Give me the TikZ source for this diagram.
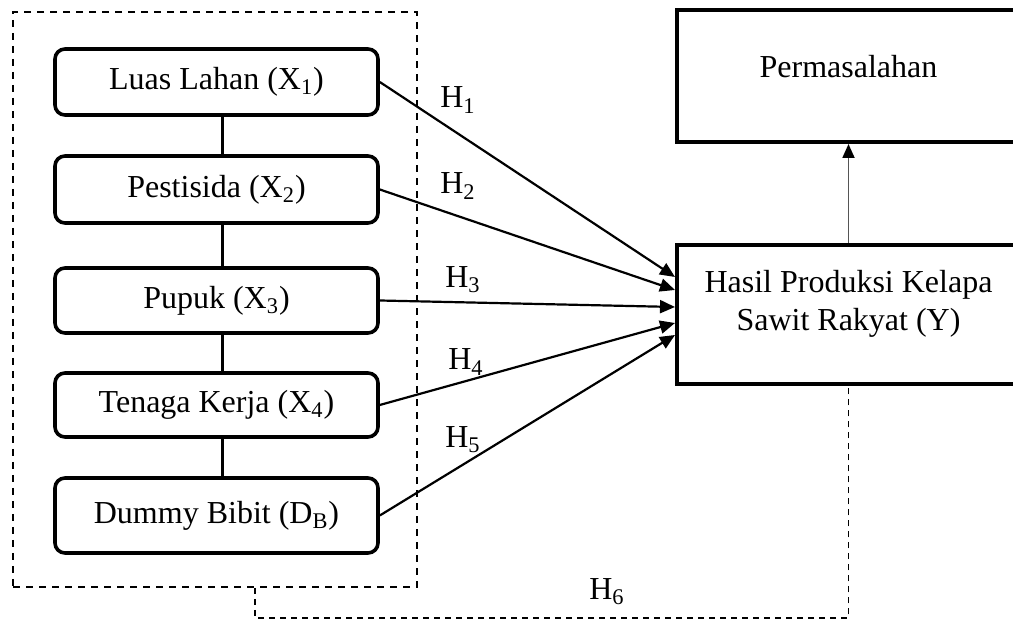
\documentclass[tikz,border=0pt]{standalone}
\usepackage{fontspec}
\setmainfont{Liberation Serif}
\usepackage{tikz}
\usetikzlibrary{arrows.meta}
\definecolor{ink}{HTML}{000000}
\definecolor{greyline}{HTML}{555555}
\tikzset{
  vbox/.style={draw=ink, line width=1.8pt, rounded corners=5pt, minimum width=161.5pt, inner sep=0pt},
  ybox/.style={draw=ink, line width=2pt, minimum width=171.5pt, inner sep=0pt},
  grpbox/.style={draw=ink, line width=0.9pt, dash pattern=on 3.5pt off 3pt, minimum width=202pt, minimum height=287.5pt, inner sep=0pt},
  link/.style={draw=ink, line width=1.6pt},
  harrow/.style={draw=ink, line width=1.1pt, -{Triangle[length=7.5pt,width=6.5pt]}},
  garrow/.style={draw=greyline, line width=0.9pt, -{Triangle[length=7pt,width=6pt,color=ink]}},
  dline/.style={draw=ink, line width=0.9pt, dash pattern=on 3pt off 2.5pt},
  lbl/.style={text=ink, inner sep=0pt},
  txt/.style={text=ink, align=center, inner sep=0pt}
}

\begin{document}
\begin{tikzpicture}[x=0.5pt, y=-0.5pt, font=\fontsize{16}{19}\selectfont]
  \useasboundingbox (0,0) rectangle (1013,619);

  % group of variables
  \node[grpbox] (grp) at (215,299.5) {};
  \node[vbox, minimum height=33pt] (x1) at (216.5,82) {Luas Lahan (X\textsubscript{1})};
  \node[vbox, minimum height=33.5pt] (x2) at (216.5,189.5) {Pestisida (X\textsubscript{2})};
  \node[vbox, minimum height=32.5pt] (x3) at (216.5,300.5) {Pupuk (X\textsubscript{3})};
  \node[vbox, minimum height=32pt] (x4) at (216.5,405) {Tenaga Kerja (X\textsubscript{4})};
  \node[vbox, minimum height=37.5pt] (db) at (216.5,515.5) {Dummy Bibit (D\textsubscript{B})};

  % outcome and problem
  \node[ybox, minimum height=69.5pt] (Y) at (848.5,314.5) {};
  \node[txt] (ytxt) at (848.5,304) {Hasil Produksi Kelapa\\Sawit Rakyat (Y)};
  \node[ybox, minimum height=66pt] (P) at (848.5,76) {};
  \node[txt] (ptxt) at (848.5,67) {Permasalahan};

  \foreach \a/\b in {x1/x2,x2/x3,x3/x4,x4/db}
    \draw[link] ([xshift=3pt]\a.south) -- ([xshift=3pt]\b.north);

  \foreach \v/\s in {x1/18.75,x2/12.25,x3/3.75,x4/-4.25,db/-10.25}
    \draw[harrow] (\v.east) -- ([yshift=\s pt]Y.west);

  \draw[garrow] (Y.north) -- (P.south);
  \draw[dline] ([xshift=20pt]grp.south) -- ++(0,30) -| (Y.south);

  \node[lbl] (h1) at (458,100) {H\textsubscript{1}};
  \node[lbl] (h2) at (458,186) {H\textsubscript{2}};
  \node[lbl] (h3) at (463,280) {H\textsubscript{3}};
  \node[lbl] (h4) at (466,362) {H\textsubscript{4}};
  \node[lbl] (h5) at (463,440) {H\textsubscript{5}};
  \node[lbl] (h6) at (607,592) {H\textsubscript{6}};
\end{tikzpicture}
\end{document}
